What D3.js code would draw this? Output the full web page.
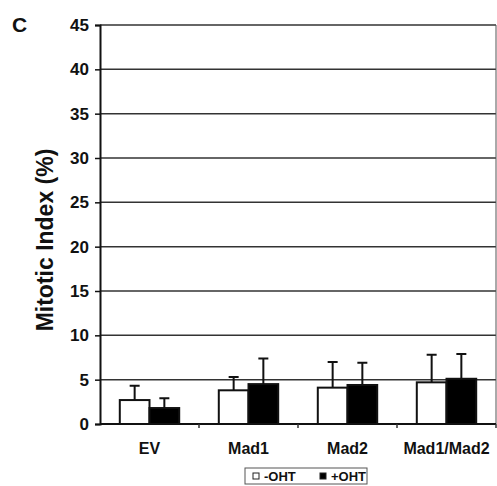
<!DOCTYPE html>
<html lang="en">
<head>
<meta charset="utf-8">
<title>Mitotic Index</title>
<script src="https://d3js.org/d3.v7.min.js"></script>
<style>
  body { margin: 0; background: #fff; font-family: Arial, "Liberation Sans", sans-serif; }
  svg text { font-family: Arial, "Liberation Sans", sans-serif; }
</style>
</head>
<body>
<div id="chart"></div>
<script>
var categories = ["EV", "Mad1", "Mad2", "Mad1/Mad2"];
var series = ["-OHT", "+OHT"];
var minusOHT = [2.7, 3.8, 4.1, 4.7];
var plusOHT = [1.8, 4.5, 4.4, 5.1];
var minusErr = [1.6, 1.5, 2.9, 3.1];
var plusErr = [1.1, 2.9, 2.5, 2.8];
var yTicks = [0, 5, 10, 15, 20, 25, 30, 35, 40, 45];

var W = 497, H = 486;
var margin = { top: 25, right: 1, bottom: 62, left: 100 },
    width = W - margin.left - margin.right,
    height = H - margin.top - margin.bottom;

var svg = d3.select("#chart").append("svg")
    .attr("width", W).attr("height", H);

var g = svg.append("g")
    .attr("transform", "translate(" + margin.left + "," + margin.top + ")");

var x = d3.scaleBand().domain(categories).range([0, width]).paddingInner(0.4).paddingOuter(0.2);
var x1 = d3.scaleBand().domain(series).range([0, x.bandwidth()]);
var y = d3.scaleLinear().domain([0, 45]).range([height, 0]);

// gridlines
g.selectAll(".grid").data(yTicks.slice(1)).enter().append("line")
    .attr("x1", 0).attr("x2", width)
    .attr("y1", function(d) { return y(d); }).attr("y2", function(d) { return y(d); })
    .attr("stroke", "#333").attr("stroke-width", 1.5);

// right border
g.append("line").attr("x1", width).attr("x2", width).attr("y1", 0).attr("y2", height)
    .attr("stroke", "#555").attr("stroke-width", 1);

// y axis
var yAxis = g.append("g").call(d3.axisLeft(y).tickValues(yTicks).tickSize(5).tickPadding(6));
yAxis.select(".domain").attr("stroke", "#111").attr("stroke-width", 2);
yAxis.selectAll(".tick line").attr("stroke", "#111").attr("stroke-width", 1.5);
yAxis.selectAll("text").attr("font-size", 17).attr("font-weight", "bold").attr("fill", "#111");

// x axis line + ticks between groups
g.append("line").attr("x1", 0).attr("x2", width).attr("y1", height).attr("y2", height)
    .attr("stroke", "#111").attr("stroke-width", 2);
var bounds = d3.range(1, categories.length + 1).map(function(i) { return i * width / categories.length; });
g.selectAll(".xt").data(bounds).enter().append("line")
    .attr("x1", function(d) { return d; }).attr("x2", function(d) { return d; })
    .attr("y1", height).attr("y2", height + 4)
    .attr("stroke", "#333").attr("stroke-width", 1.5);

g.selectAll(".xl").data(categories).enter().append("text")
    .attr("x", function(d) { return x(d) + x.bandwidth() / 2; })
    .attr("y", height + 30)
    .attr("text-anchor", "middle")
    .attr("font-size", 16).attr("font-weight", "bold").attr("fill", "#111")
    .text(function(d) { return d; });

// bars
var rows = categories.map(function(c, i) {
    return [
        { cat: c, s: "-OHT", v: minusOHT[i], e: minusErr[i] },
        { cat: c, s: "+OHT", v: plusOHT[i], e: plusErr[i] }
    ];
});

var grp = g.selectAll(".grp").data(rows).enter().append("g")
    .attr("transform", function(d) { return "translate(" + x(d[0].cat) + ",0)"; });

// error bars (upward only)
grp.selectAll(".err").data(function(d) { return d; }).enter().append("path")
    .attr("d", function(d) {
        var cx = x1(d.s) + x1.bandwidth() / 2;
        var top = y(d.v + d.e);
        return "M" + cx + "," + y(d.v) + "V" + top + "M" + (cx - 5) + "," + top + "H" + (cx + 5);
    })
    .attr("stroke", "#111").attr("stroke-width", 2).attr("fill", "none");

grp.selectAll("rect").data(function(d) { return d; }).enter().append("rect")
    .attr("x", function(d) { return x1(d.s); })
    .attr("y", function(d) { return y(d.v); })
    .attr("width", x1.bandwidth())
    .attr("height", function(d) { return height - y(d.v); })
    .attr("fill", function(d) { return d.s === "-OHT" ? "#fff" : "#000"; })
    .attr("stroke", "#111").attr("stroke-width", 2);

// y label
svg.append("text")
    .attr("transform", "translate(53,240) rotate(-90)")
    .attr("text-anchor", "middle")
    .attr("font-size", 23).attr("font-weight", "bold").attr("fill", "#111")
    .text("Mitotic Index (%)");

// panel letter
svg.append("text").attr("x", 12).attr("y", 32)
    .attr("font-size", 21).attr("font-weight", "bold").attr("fill", "#111")
    .text("C");

// legend
var lg = svg.append("g").attr("transform", "translate(245,468)");
lg.append("rect").attr("width", 122).attr("height", 16)
    .attr("fill", "#fff").attr("stroke", "#555").attr("stroke-width", 1);
var items = lg.selectAll(".li").data(series).enter().append("g")
    .attr("transform", function(d, i) { return "translate(" + (8 + i * 67) + ",0)"; });
items.append("rect").attr("x", 0).attr("y", 5).attr("width", 6).attr("height", 6)
    .attr("fill", function(d, i) { return i === 0 ? "#fff" : "#000"; })
    .attr("stroke", "#222").attr("stroke-width", 1);
items.append("text").attr("x", 11).attr("y", 12.5)
    .attr("font-size", 13).attr("font-weight", "bold").attr("fill", "#111")
    .text(function(d) { return d; });
</script>
</body>
</html>
